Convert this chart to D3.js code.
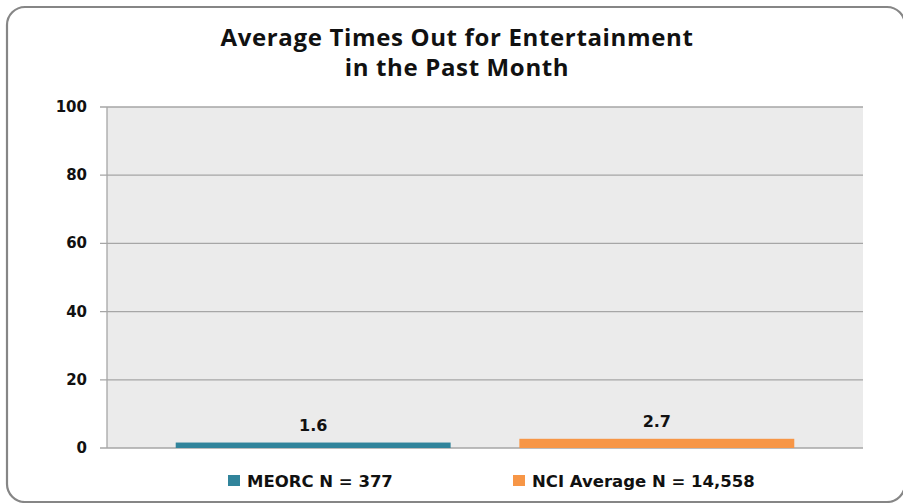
<!DOCTYPE html>
<html>
<head>
<meta charset="utf-8">
<script src="https://cdn.jsdelivr.net/npm/d3@7"></script>
<style>
  html, body { margin: 0; padding: 0; background: #fff; }
  svg { display: block; }
</style>
</head>
<body>
<div id="chart"></div>
<script>
const WIDTH = 903;
const HEIGHT = 503;

// chart data
const series = ["MEORC N = 377", "NCI Average N = 14,558"];
const values = [1.6, 2.7];
const colors = ["#31849b", "#f79646"];
const yTicks = [0, 20, 40, 60, 80, 100];
const titleLines = ["Average Times Out for Entertainment", "in the Past Month"];

const plot = { left: 107, right: 863, top: 107, bottom: 448 };
const LABEL_FONT = "'DejaVu Sans', Verdana, sans-serif";
const TITLE_FONT = "'Open Sans', Calibri, sans-serif";

const svg = d3.select("#chart")
  .append("svg")
  .attr("width", WIDTH)
  .attr("height", HEIGHT);

// outer rounded frame (runs slightly past the right/bottom edge)
svg.append("rect")
  .attr("x", 7).attr("y", 7)
  .attr("width", 898).attr("height", 495)
  .attr("rx", 18).attr("ry", 18)
  .attr("fill", "#fff")
  .attr("stroke", "#868686")
  .attr("stroke-width", 2.2);

const x = d3.scaleBand()
  .domain(series)
  .range([plot.left, plot.right])
  .paddingInner(0.2)
  .paddingOuter(0.2);

const y = d3.scaleLinear()
  .domain([0, 100])
  .range([plot.bottom, plot.top]);

// plot background
svg.append("rect")
  .attr("x", plot.left).attr("y", plot.top)
  .attr("width", plot.right - plot.left)
  .attr("height", plot.bottom - plot.top)
  .attr("fill", "#ebebeb");

// gridlines
svg.append("g")
  .selectAll("line")
  .data(yTicks)
  .join("line")
  .attr("x1", plot.left - 7)
  .attr("x2", plot.right)
  .attr("y1", d => y(d))
  .attr("y2", d => y(d))
  .attr("stroke", "#a6a6a6")
  .attr("stroke-width", 1.3);

// y axis line
svg.append("line")
  .attr("x1", plot.left).attr("x2", plot.left)
  .attr("y1", plot.top).attr("y2", plot.bottom)
  .attr("stroke", "#a6a6a6")
  .attr("stroke-width", 1.3);

// y tick labels
svg.append("g")
  .selectAll("text")
  .data(yTicks)
  .join("text")
  .attr("x", 87)
  .attr("y", d => y(d) + 5)
  .attr("text-anchor", "end")
  .attr("font-family", LABEL_FONT)
  .attr("font-weight", "bold")
  .attr("font-size", 15)
  .attr("fill", "#111")
  .text(d => d);

// bars
svg.append("g")
  .selectAll("rect")
  .data(values)
  .join("rect")
  .attr("x", (d, i) => x(series[i]))
  .attr("y", d => y(d))
  .attr("width", x.bandwidth())
  .attr("height", d => y(0) - y(d))
  .attr("fill", (d, i) => colors[i]);

// value labels
svg.append("g")
  .selectAll("text")
  .data(values)
  .join("text")
  .attr("x", (d, i) => x(series[i]) + x.bandwidth() / 2)
  .attr("y", d => y(d) - 12)
  .attr("text-anchor", "middle")
  .attr("font-family", LABEL_FONT)
  .attr("font-weight", "bold")
  .attr("font-size", 16)
  .attr("fill", "#111")
  .text(d => d.toFixed(1));

// title, one text per line
svg.append("g")
  .selectAll("text")
  .data(titleLines)
  .join("text")
  .attr("x", 457)
  .attr("y", (d, i) => 46 + i * 29.5)
  .attr("font-family", TITLE_FONT)
  .attr("font-weight", "bold")
  .attr("font-size", 24)
  .attr("letter-spacing", 0.65)
  .attr("fill", "#111")
  .attr("text-anchor", "middle")
  .text(d => d);

// legend
const legendX = [228, 513];
const legend = svg.append("g")
  .selectAll("g")
  .data(series)
  .join("g")
  .attr("transform", (d, i) => `translate(${legendX[i]},475)`);

legend.append("rect")
  .attr("width", 12).attr("height", 11)
  .attr("fill", (d, i) => colors[i]);

legend.append("text")
  .attr("x", 19)
  .attr("y", 11.5)
  .attr("font-family", LABEL_FONT)
  .attr("font-weight", "bold")
  .attr("font-size", 16.5)
  .attr("fill", "#111")
  .text(d => d);
</script>
</body>
</html>
